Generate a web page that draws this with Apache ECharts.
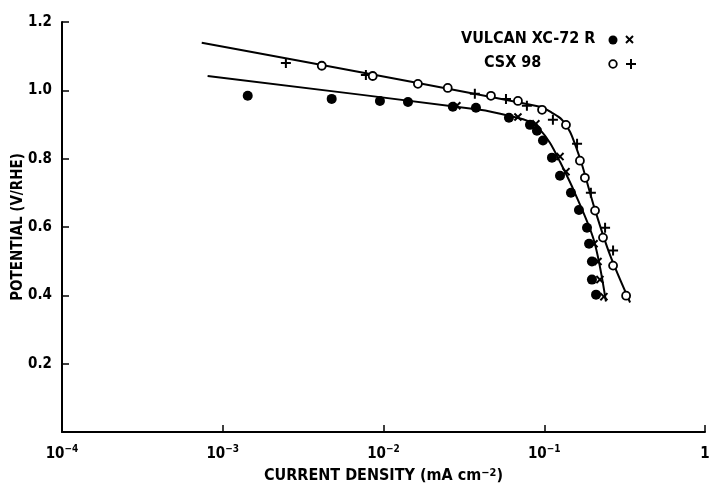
<!DOCTYPE html>
<html>
<head>
<meta charset="utf-8">
<script src="https://cdn.jsdelivr.net/npm/echarts@6/dist/echarts.min.js"></script>
<style>
  html, body { margin: 0; padding: 0; background: #fff; }
  #chart { width: 709px; height: 488px; }
</style>
</head>
<body>
<div id="chart"></div>
<script>
// Oxygen reduction polarization: potential vs. current density (log scale)
const FONT = "'DejaVu Sans Condensed', 'Liberation Sans Narrow', 'Roboto', sans-serif";

// Vulcan XC-72R, filled circles
const vulcanDotX = [0.00143, 0.00476, 0.0095, 0.0142, 0.0270, 0.0376, 0.0603, 0.0815, 0.0901, 0.0982, 0.1117, 0.1253, 0.1466, 0.1644, 0.1845, 0.190, 0.198, 0.198, 0.210];
const vulcanDotY = [0.984, 0.975, 0.969, 0.966, 0.952, 0.949, 0.920, 0.899, 0.882, 0.853, 0.803, 0.750, 0.700, 0.650, 0.598, 0.551, 0.499, 0.446, 0.402];
// Vulcan XC-72R, crosses
const vulcanCrossX = [0.0286, 0.0686, 0.0887, 0.1253, 0.1365, 0.204, 0.216, 0.222, 0.235];
const vulcanCrossY = [0.955, 0.922, 0.902, 0.806, 0.762, 0.551, 0.499, 0.446, 0.396];
// CSX 98, open circles
const csxRingX = [0.00413, 0.00857, 0.01637, 0.0251, 0.0466, 0.0686, 0.0969, 0.1365, 0.1667, 0.179, 0.207, 0.232, 0.268, 0.323];
const csxRingY = [1.072, 1.042, 1.019, 1.007, 0.984, 0.969, 0.943, 0.899, 0.794, 0.744, 0.648, 0.569, 0.487, 0.399];
// CSX 98, plus signs
const csxPlusX = [0.00247, 0.00777, 0.0370, 0.0578, 0.0780, 0.1132, 0.160, 0.195, 0.239, 0.268];
const csxPlusY = [1.080, 1.045, 0.990, 0.975, 0.955, 0.914, 0.844, 0.700, 0.598, 0.531];

// Fitted curves
const vulcanFitX = [0.000805, 0.0398, 0.0611, 0.0815, 0.0940, 0.1087, 0.1253, 0.153, 0.204, 0.242];
const vulcanFitY = [1.042, 0.943, 0.925, 0.908, 0.885, 0.846, 0.791, 0.706, 0.560, 0.382];
const csxFitX = [0.00074, 0.0942, 0.1118, 0.1288, 0.1446, 0.1574, 0.1718, 0.207, 0.256, 0.342];
const csxFitY = [1.139, 0.952, 0.934, 0.914, 0.879, 0.835, 0.782, 0.650, 0.519, 0.379];

const zip = (xs, ys) => xs.map((x, i) => [x, ys[i]]);
const PLUS = 'path://M4,0H6V4H10V6H6V10H4V6H0V4H4Z';

const chart = echarts.init(document.getElementById('chart'));
chart.setOption({
  animation: false,
  backgroundColor: '#fff',
  grid: { left: 62, right: 4, top: 22, bottom: 56, containLabel: false, outerBoundsMode: 'none' },
  xAxis: {
    type: 'log', logBase: 10, min: 0.0001, max: 1,
    name: 'CURRENT DENSITY (mA cm{s|−2})',
    nameLocation: 'middle', nameGap: 36, nameMoveOverlap: false,
    nameTextStyle: {
      color: '#000', fontFamily: FONT, fontSize: 16, fontWeight: 'bold',
      rich: { s: { fontSize: 11, fontFamily: FONT, fontWeight: 'bold', verticalAlign: 'top', lineHeight: 12 } }
    },
    axisLine: { lineStyle: { color: '#000', width: 2 } },
    axisTick: { inside: true, length: 7, lineStyle: { color: '#000', width: 1.5 } },
    minorTick: { show: false },
    splitLine: { show: false },
    axisLabel: {
      margin: 12, color: '#000', fontFamily: FONT, fontSize: 15,
      hideOverlap: false,
      formatter: v => {
        const e = Math.round(Math.log10(v));
        return e === 0 ? '{b|1}' : '{b|10}{s|' + (e < 0 ? '−' : '') + Math.abs(e) + '}';
      },
      rich: {
        b: { fontSize: 15, fontFamily: FONT, fontWeight: 'bold', color: '#000', lineHeight: 20 },
        s: { fontSize: 10, fontFamily: FONT, fontWeight: 'bold', color: '#000', verticalAlign: 'top', lineHeight: 11 }
      }
    }
  },
  yAxis: {
    type: 'value', min: 0, max: 1.2, interval: 0.2,
    name: 'POTENTIAL (V/RHE)',
    nameLocation: 'middle', nameGap: 36, nameRotate: 90, nameMoveOverlap: false,
    nameTextStyle: { color: '#000', fontFamily: FONT, fontSize: 15, fontWeight: 'bold' },
    axisLine: { show: true, lineStyle: { color: '#000', width: 2 } },
    axisTick: { show: true, inside: true, length: 7, lineStyle: { color: '#000', width: 1.5 } },
    splitLine: { show: false },
    axisLabel: {
      margin: 10, color: '#000', fontFamily: FONT, fontSize: 15, fontWeight: 'bold',
      formatter: v => (v === 0 ? '' : v.toFixed(1))
    }
  },
  series: [
    {
      type: 'line', data: zip(csxFitX, csxFitY), showSymbol: false, smooth: 0.3,
      lineStyle: { color: '#000', width: 2 }, z: 2
    },
    {
      type: 'line', data: zip(vulcanFitX, vulcanFitY), showSymbol: false, smooth: 0.3,
      lineStyle: { color: '#000', width: 2 }, z: 2
    },
    {
      type: 'scatter', data: zip(vulcanDotX, vulcanDotY), symbol: 'circle', symbolSize: 10,
      itemStyle: { color: '#000', opacity: 1 }, z: 3
    },
    {
      type: 'scatter', data: zip(vulcanCrossX, vulcanCrossY), symbol: PLUS, symbolSize: 10, symbolRotate: 45,
      itemStyle: { color: '#000', opacity: 1 }, z: 3
    },
    {
      type: 'scatter', data: zip(csxRingX, csxRingY), symbol: 'circle', symbolSize: 8,
      itemStyle: { color: '#fff', borderColor: '#000', borderWidth: 1.8, opacity: 1 }, z: 4
    },
    {
      type: 'scatter', data: zip(csxPlusX, csxPlusY), symbol: PLUS, symbolSize: 10,
      itemStyle: { color: '#000', opacity: 1 }, z: 3
    }
  ],
  graphic: [
    { type: 'text', left: 461, top: 31, style: { text: 'VULCAN XC-72 R', font: "bold 16px " + FONT, fill: '#000' } },
    { type: 'text', left: 484, top: 55, style: { text: 'CSX 98', font: "bold 16px " + FONT, fill: '#000' } },
    { type: 'circle', shape: { cx: 613, cy: 40, r: 4.5 }, style: { fill: '#000' } },
    { type: 'line', shape: { x1: 626, y1: 36, x2: 633, y2: 43 }, style: { stroke: '#000', lineWidth: 2 } },
    { type: 'line', shape: { x1: 626, y1: 43, x2: 633, y2: 36 }, style: { stroke: '#000', lineWidth: 2 } },
    { type: 'circle', shape: { cx: 613, cy: 64, r: 3.8 }, style: { fill: '#fff', stroke: '#000', lineWidth: 1.8 } },
    { type: 'line', shape: { x1: 626, y1: 64, x2: 636, y2: 64 }, style: { stroke: '#000', lineWidth: 2 } },
    { type: 'line', shape: { x1: 631, y1: 59, x2: 631, y2: 69 }, style: { stroke: '#000', lineWidth: 2 } }
  ]
});
</script>
</body>
</html>
